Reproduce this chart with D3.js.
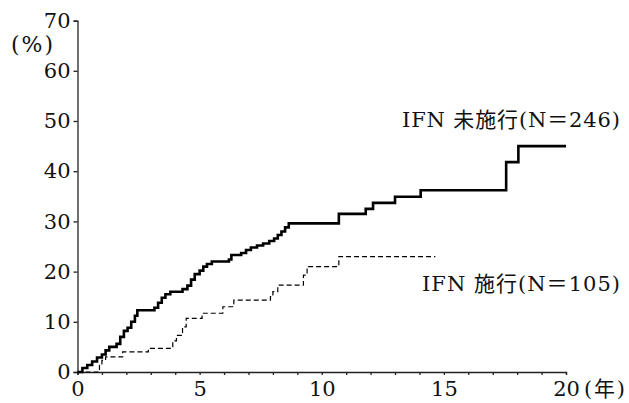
<!DOCTYPE html>
<html><head><meta charset="utf-8">
<script src="https://cdn.jsdelivr.net/npm/d3@7"></script>
<style>
body{margin:0;background:#fff;}
svg{display:block;}
</style></head>
<body>
<svg id="c" width="629" height="403"></svg>
<script>
// Cumulative incidence (%) by years
const untreatedT = [0,0.2,0.4,0.6,0.8,1.0,1.15,1.3,1.6,1.75,1.9,2.05,2.2,2.35,2.45,3.15,3.3,3.45,3.6,3.8,4.3,4.5,4.65,4.8,5.0,5.15,5.3,5.5,6.2,6.3,6.7,6.9,7.1,7.35,7.6,7.85,8.05,8.2,8.35,8.5,8.65,10.7,11.8,12.1,13.0,14.05,17.55,18.05,20];
const untreatedV = [0,0.8,1.4,2.1,2.9,3.5,4.3,5.0,5.6,7.0,8.2,8.8,10.0,11.2,12.3,12.8,13.8,14.8,15.5,16.0,16.5,17.2,18.4,19.5,20.2,21.0,21.5,22.0,22.4,23.3,23.7,24.3,24.8,25.2,25.6,26.1,26.6,27.3,28.0,28.8,29.6,31.5,32.5,33.7,34.9,36.2,41.8,45.0,45.0];
const treatedT = [0,0.9,1.0,1.15,1.85,2.9,3.9,4.05,4.3,4.45,5.1,5.95,6.4,7.9,8.0,8.2,9.25,9.4,10.7,14.65];
const treatedV = [0,1.3,2.3,3.0,4.0,4.7,6.2,7.3,9.0,10.7,11.7,13.0,14.3,15.0,16.0,17.3,19.3,21.0,23.0,23.0];
const yTicks = [0,10,20,30,40,50,60,70];
const xTicks = [0,5,10,15,20];
const xMinor = [0,1,2,3,4,5,6,7,8,9,10,11,12,13,14,15,16,17,18,19,20];
const labelUntreated = "IFN 未施行(N＝246)";
const labelTreated = "IFN 施行(N＝105)";
const yUnit = "(%)";
const xUnit = "(年)";

const FONT = "'DejaVu Serif', 'Liberation Serif', 'Noto Sans CJK JP', serif";
const svg = d3.select("#c");
const x = d3.scaleLinear().domain([0,20]).range([77.5,566]);
const y = d3.scaleLinear().domain([0,70]).range([372,20.6]);

const gy = svg.append("g").attr("transform","translate(77.5,0)")
  .call(d3.axisLeft(y).tickValues(yTicks).tickSize(4).tickPadding(3).tickFormat(d3.format("d")));
const gx = svg.append("g").attr("transform","translate(0,372)")
  .call(d3.axisBottom(x).tickValues(xMinor).tickSize(3).tickPadding(7)
    .tickFormat(d => xTicks.includes(d) ? d : ""));
[gy,gx].forEach(g=>{
  g.attr("font-family",FONT);
  g.select(".domain").attr("stroke","#222").attr("stroke-width",1.3);
  g.selectAll(".tick line").attr("stroke","#222").attr("stroke-width",1.3);
  g.selectAll("text").attr("font-size",21).attr("fill","#111").style("font-family",FONT);
});
gx.selectAll("text").attr("dy","0.68em");

const line = d3.line().curve(d3.curveStepAfter).x(d=>x(d[0])).y(d=>y(d[1]));
svg.append("path").datum(d3.zip(untreatedT,untreatedV))
  .attr("d",line).attr("fill","none").attr("stroke","#000").attr("stroke-width",2.6);
svg.append("path").datum(d3.zip(treatedT,treatedV))
  .attr("d",line).attr("fill","none").attr("stroke","#000").attr("stroke-width",1.2)
  .attr("stroke-dasharray","5,3");

function lab(xp, yp, size, len, t){
  svg.append("text").attr("x",xp).attr("y",yp).attr("font-size",size)
    .attr("textLength",len).attr("fill","#111").style("font-family",FONT).text(t);
}
lab(11,52,22,42,yUnit);
lab(584,396,21,41,xUnit);
lab(402,127,21,218,labelUntreated);
lab(422,291,21,198,labelTreated);
</script>
</body></html>
